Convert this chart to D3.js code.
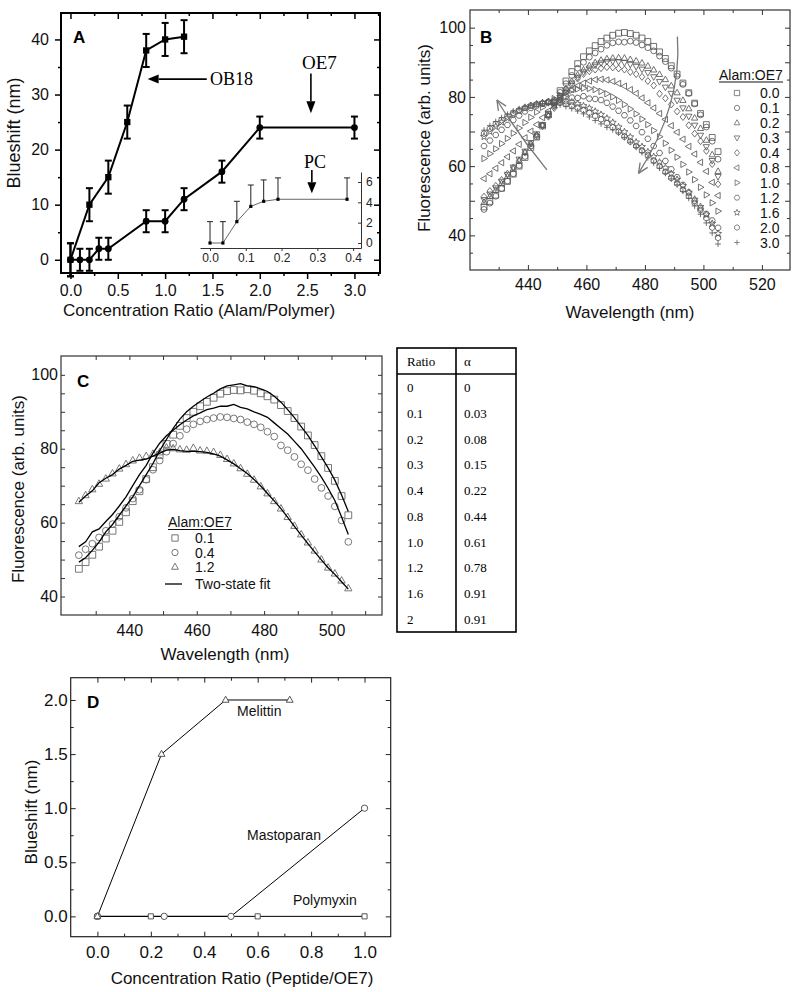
<!DOCTYPE html>
<html><head><meta charset="utf-8">
<script src="https://cdn.jsdelivr.net/npm/d3@7"></script>
<style>
body{margin:0;background:#fff;}
svg{display:block;}
</style></head><body>
<svg id="fig" width="800" height="992"></svg>
<script>
// ================= DATA =================
// Panel A
const obRatio = [0, 0.2, 0.4, 0.6, 0.8, 1.0, 1.2];
const obShift = [0, 10, 15, 25, 38, 40, 40.5];
const obErr   = [3, 3, 3, 3, 3, 3, 3];
const oeRatio = [0, 0.1, 0.2, 0.3, 0.4, 0.8, 1.0, 1.2, 1.6, 2.0, 3.0];
const oeShift = [0, 0, 0, 2, 2, 7, 7, 11, 16, 24, 24];
const oeErr   = [3, 2, 2, 2, 2, 2, 2, 2, 2, 2, 2];
const pcRatio = [0, 0.036, 0.075, 0.114, 0.15, 0.19, 0.383];
const pcShift = [0, 0, 2.1, 3.6, 4.1, 4.3, 4.3];
const pcErr   = [2.1, 2.1, 2.0, 2.1, 2.1, 2.1, 2.1];
const aXMajor = [0, 0.5, 1.0, 1.5, 2.0, 2.5, 3.0];
const aXMinor = [0.25, 0.75, 1.25, 1.75, 2.25, 2.75, 3.25];
const aYMajor = [0, 10, 20, 30, 40];
const aYMinor = [5, 15, 25, 35];
const insetXTicks = [0, 0.1, 0.2, 0.3, 0.4];
const insetYTicks = [0, 2, 4, 6];

// Wavelength grid (nm)
const wl = [425,427,429,431,433,435,437,439,441,443,445,447,449,451,453,455,457,459,461,463,465,467,469,471,473,475,477,479,481,483,485,487,489,491,493,495,497,499,501,503,505];

// Spectra (arb. units)
const s00 = [48.2,49.8,51.6,53.6,55.6,57.7,60.0,62.5,65.4,68.4,71.6,75.0,78.5,81.8,84.6,87.3,89.6,91.6,93.3,94.8,96.0,97.0,97.8,98.4,98.6,98.3,97.8,97.0,96.0,94.6,93.0,91.1,89.0,86.6,84.0,81.2,78.2,75.2,72.0,68.3,64.2];
const s01 = [47.5,49.3,51.3,53.5,55.7,57.8,60.2,62.8,65.8,68.5,71.8,75.0,78.3,81.3,83.8,86.2,88.3,90.0,91.5,92.7,93.8,94.9,95.6,95.9,95.8,96.1,95.7,95.0,94.2,93.3,91.8,90.2,88.3,86.0,83.6,81.0,78.0,74.8,71.3,67.2,62.0];
const s02 = [49.5,51.2,53.0,55.0,57.0,59.2,61.5,63.9,66.4,69.0,71.8,74.6,77.4,80.0,82.4,84.5,86.3,87.8,89.0,89.9,90.6,91.0,91.2,91.3,91.2,90.8,90.4,89.8,88.9,87.8,86.5,85.0,83.2,81.2,79.0,76.6,73.9,70.9,67.5,63.3,58.5];
const s03 = [50.3,51.9,53.7,55.6,57.6,59.7,62.0,64.3,66.8,69.3,72.0,74.7,77.3,79.8,82.0,84.0,85.7,87.2,88.3,89.2,89.8,90.2,90.3,90.2,89.9,89.4,88.8,88.0,87.0,85.8,84.4,82.8,81.0,79.0,76.8,74.4,71.8,68.9,65.6,61.6,57.0];
const s04 = [51.2,52.8,54.3,56.0,57.8,59.6,61.6,64.0,66.5,68.9,71.6,74.3,76.8,79.2,81.4,83.5,85.3,86.6,87.4,87.9,88.3,88.6,88.5,88.2,87.9,87.2,86.6,85.8,84.6,83.3,80.9,79.6,77.8,75.8,74.2,71.8,69.4,67.2,64.4,60.6,54.8];
const s08 = [56.4,57.8,59.4,61.0,62.7,64.4,66.3,68.2,70.1,72.0,74.0,75.9,77.7,79.3,80.8,82.1,83.2,84.0,84.6,85.0,85.1,84.9,84.5,83.9,83.1,82.1,81.0,79.7,78.3,76.8,75.2,73.5,71.7,69.8,67.8,65.7,63.5,61.1,58.5,55.3,51.5];
const s10 = [62.2,63.6,65.0,66.5,68.0,69.5,71.0,72.6,74.1,75.6,77.0,78.3,79.5,80.5,81.3,81.9,82.3,82.5,82.4,82.1,81.6,80.9,80.0,79.0,77.8,76.5,75.1,73.6,72.0,70.3,68.5,66.6,64.6,62.6,60.5,58.3,56.1,53.9,51.7,49.4,47.0];
const s12 = [65.8,67.4,69.0,70.5,71.9,73.3,74.6,75.8,76.8,77.5,78.0,78.6,79.0,80.3,80.1,79.8,79.7,80.2,79.5,79.4,79.1,78.3,77.2,76.0,74.7,73.2,71.6,69.8,67.9,65.8,63.8,61.5,59.1,56.8,54.6,52.4,50.0,47.8,46.2,44.3,42.2];
const s16 = [68.5,70.0,71.4,72.7,73.9,75.0,75.9,76.7,77.4,77.9,78.3,78.6,78.8,78.9,78.8,78.5,78.0,77.4,76.7,75.8,74.9,73.8,72.6,71.3,69.9,68.4,66.9,65.6,64.1,62.7,61.1,59.5,57.8,56.1,54.3,52.4,50.4,48.3,46.0,43.4,40.5];
const s20 = [69.4,70.8,72.1,73.3,74.4,75.4,76.2,76.9,77.5,77.9,78.2,78.4,78.5,78.3,78.0,77.5,76.9,76.2,75.4,74.5,73.5,72.4,71.2,69.9,68.5,67.1,65.8,64.5,63.2,61.6,60.0,58.3,56.6,55.0,53.2,51.4,49.4,47.3,45.0,42.3,39.3];
const s30 = [70.4,71.7,72.9,74.0,75.0,75.9,76.6,77.2,77.6,77.9,78.1,78.1,78.0,77.7,77.2,76.6,75.9,75.1,74.2,73.2,72.2,71.2,70.5,69.6,68.3,66.9,65.4,63.9,62.4,60.9,59.4,57.9,56.3,54.6,52.7,50.7,48.5,46.1,43.6,40.7,37.5];
// Two-state fits (panel C)
const f01 = [49.3,50.5,52.5,54.7,57.5,59.5,62.0,64.5,67.0,70.0,73.0,76.0,79.5,82.5,85.5,88.0,90.0,91.5,92.8,94.0,95.0,96.2,97.0,97.3,97.6,97.0,96.8,96.2,95.5,94.2,92.6,90.6,88.4,86.0,83.6,80.8,77.8,74.8,71.5,67.5,63.0];
const f04 = [53.5,54.8,57.5,58.3,60.3,62.2,64.5,67.0,70.0,73.0,75.5,78.8,81.5,83.5,85.0,86.5,87.8,88.9,89.7,90.6,91.0,91.5,91.5,92.0,91.2,90.8,90.0,89.3,88.5,87.0,85.5,84.0,82.0,80.0,77.5,75.0,72.3,69.3,66.0,61.5,56.8];
const f12 = [65.5,67.2,68.6,70.8,72.0,73.0,74.5,75.5,76.6,76.9,77.2,78.0,78.8,79.6,79.8,79.5,79.3,79.3,79.2,79.0,78.6,78.0,77.0,75.9,74.6,73.3,71.7,69.9,67.9,65.9,63.8,61.4,59.0,56.6,54.3,52.1,49.9,47.8,46.0,44.0,42.0];

const bLabels = ["0.0","0.1","0.2","0.3","0.4","0.8","1.0","1.2","1.6","2.0","3.0"];
const bSeries = [s00, s01, s02, s03, s04, s08, s10, s12, s16, s20, s30];
const bShapes = ["square","circle","triUp","triDown","diamond","triLeft","triRight","hexagon","star","hexagon2","plus"];
const bXMajor = [440, 460, 480, 500, 520];
const bXMinor = [430, 450, 470, 490, 510];
const bYMajor = [40, 50, 60, 70, 80, 90, 100];
const bYMinor = [35, 45, 55, 65, 75, 85, 95];
const bYLabels = [40, 60, 80, 100];

const cLabels = ["0.1", "0.4", "1.2"];
const cSeries = [s01, s04, s12];
const cFits = [f01, f04, f12];
const cShapes = ["square", "circle", "triUp"];
const cXTicks = [430, 440, 450, 460, 470, 480, 490, 500, 510];
const cXLabels = [440, 460, 480, 500];
const cYTicks = [40, 45, 50, 55, 60, 65, 70, 75, 80, 85, 90, 95, 100];
const cYLabels = [40, 60, 80, 100];

// Table
const tabRatio = ["0","0.1","0.2","0.3","0.4","0.8","1.0","1.2","1.6","2"];
const tabAlpha = ["0","0.03","0.08","0.15","0.22","0.44","0.61","0.78","0.91","0.91"];

// Panel D
const melX = [0, 0.24, 0.48, 0.72], melY = [0, 1.5, 2.0, 2.0];
const masX = [0, 0.25, 0.5, 1.0],  masY = [0, 0, 0, 1.0];
const polX = [0, 0.2, 0.6, 1.0],   polY = [0, 0, 0, 0];
const dXMajor = [0, 0.2, 0.4, 0.6, 0.8, 1.0];
const dXMinor = [0.1, 0.3, 0.5, 0.7, 0.9];
const dYMajor = [0, 0.5, 1.0, 1.5, 2.0];
const dYMinor = [0.25, 0.75, 1.25, 1.75];

// ================= HELPERS =================
const SANS = '"Liberation Sans", Arial, Helvetica, sans-serif';
const SERIF = '"Liberation Serif", "Times New Roman", serif';
const svg = d3.select("#fig");

const SYM = {
  square: {draw(c,s){const r=Math.sqrt(s)/2; c.rect(-r,-r,2*r,2*r);}},
  circle: {draw(c,s){const r=Math.sqrt(s)/2; c.moveTo(r,0); c.arc(0,0,r,0,2*Math.PI);}},
  triUp:  {draw(c,s){const r=Math.sqrt(s)/2*1.2; c.moveTo(0,-r); c.lineTo(r*0.9,r*0.6); c.lineTo(-r*0.9,r*0.6); c.closePath();}},
  triDown:{draw(c,s){const r=Math.sqrt(s)/2*1.2; c.moveTo(0,r); c.lineTo(r*0.9,-r*0.6); c.lineTo(-r*0.9,-r*0.6); c.closePath();}},
  triLeft:{draw(c,s){const r=Math.sqrt(s)/2*1.2; c.moveTo(-r,0); c.lineTo(r*0.6,-r*0.9); c.lineTo(r*0.6,r*0.9); c.closePath();}},
  triRight:{draw(c,s){const r=Math.sqrt(s)/2*1.2; c.moveTo(r,0); c.lineTo(-r*0.6,-r*0.9); c.lineTo(-r*0.6,r*0.9); c.closePath();}},
  diamond:{draw(c,s){const r=Math.sqrt(s)/2*1.2; c.moveTo(0,-r); c.lineTo(r*0.8,0); c.lineTo(0,r); c.lineTo(-r*0.8,0); c.closePath();}},
  hexagon:{draw(c,s){const r=Math.sqrt(s)/2*1.05; for(let i=0;i<6;i++){const a=Math.PI/3*i; const px=r*Math.cos(a), py=r*Math.sin(a); i?c.lineTo(px,py):c.moveTo(px,py);} c.closePath();}},
  hexagon2:{draw(c,s){const r=Math.sqrt(s)/2*1.05; for(let i=0;i<6;i++){const a=Math.PI/3*i+Math.PI/6; const px=r*Math.cos(a), py=r*Math.sin(a); i?c.lineTo(px,py):c.moveTo(px,py);} c.closePath();}},
  star:{draw(c,s){const R=Math.sqrt(s)/2*1.25, r=R*0.45; for(let i=0;i<10;i++){const a=-Math.PI/2+Math.PI/5*i; const rr=i%2?r:R; const px=rr*Math.cos(a), py=rr*Math.sin(a); i?c.lineTo(px,py):c.moveTo(px,py);} c.closePath();}},
  plus:{draw(c,s){const r=Math.sqrt(s)/2; c.moveTo(-r,0); c.lineTo(r,0); c.moveTo(0,-r); c.lineTo(0,r);}}
};
const sym = (name, size) => d3.symbol().type(SYM[name]).size(size)();

function frame(g, x, y, sw, col) {
  const [x0,x1]=x.range(), [y0,y1]=y.range();
  g.append("rect").attr("x",x0).attr("y",y1).attr("width",x1-x0).attr("height",y0-y1)
    .attr("fill","none").attr("stroke",col).attr("stroke-width",sw);
}
function ticks(g, gen, tr, vals, size, col, sw) {
  g.append("g").attr("transform",tr)
    .call(gen.tickValues(vals).tickSize(size).tickFormat(""))
    .call(s=>{s.select(".domain").remove(); s.selectAll("text").remove();
      s.selectAll("line").attr("stroke",col).attr("stroke-width",sw);});
}
function labels(g, gen, tr, vals, pad, fmt, fs) {
  g.append("g").attr("transform",tr)
    .call(gen.tickValues(vals).tickSize(0).tickPadding(pad).tickFormat(fmt))
    .call(s=>{s.select(".domain").remove(); s.selectAll("line").remove();
      s.selectAll("text").attr("font-size",fs).attr("font-family",SANS).attr("fill","#111");});
}
function fourSides(g, x, y, xv, yv, len, col, sw, outLB) {
  const [x0,x1]=x.range(), [y0,y1]=y.range();
  ticks(g, d3.axisBottom(x), `translate(0,${y0})`, xv, outLB?len:-len, col, sw);
  ticks(g, d3.axisTop(x), `translate(0,${y1})`, xv, -len, col, sw);
  ticks(g, d3.axisLeft(y), `translate(${x0},0)`, yv, outLB?len:-len, col, sw);
  ticks(g, d3.axisRight(y), `translate(${x1},0)`, yv, -len, col, sw);
}
function text(g, str, x, y, o={}) {
  const t = g.append("text").attr("x",x).attr("y",y).text(str)
    .attr("font-family", o.family||SANS).attr("font-size", o.size||16)
    .attr("fill", o.fill||"#111").attr("text-anchor", o.anchor||"start");
  if (o.weight) t.attr("font-weight", o.weight);
  if (o.rotate) t.attr("transform", `rotate(-90,${x},${y})`);
  return t;
}
function filledArrow(g, p0, p1, len, hw) {
  const a = Math.atan2(p1[1]-p0[1], p1[0]-p0[0]);
  const bx = p1[0]-len*Math.cos(a), by = p1[1]-len*Math.sin(a);
  g.append("line").attr("x1",p0[0]).attr("y1",p0[1]).attr("x2",bx).attr("y2",by)
    .attr("stroke","#000").attr("stroke-width",1.6);
  const path = d3.path();
  path.moveTo(p1[0],p1[1]);
  path.lineTo(bx + hw*Math.sin(a), by - hw*Math.cos(a));
  path.lineTo(bx - hw*Math.sin(a), by + hw*Math.cos(a));
  path.closePath();
  g.append("path").attr("d",path.toString()).attr("fill","#000");
}
function curvedArrow(g, p0, c, p2, col, w, head) {
  const p = d3.path(); p.moveTo(p0[0],p0[1]); p.quadraticCurveTo(c[0],c[1],p2[0],p2[1]);
  g.append("path").attr("d",p.toString()).attr("fill","none").attr("stroke",col).attr("stroke-width",w);
  const a = Math.atan2(p2[1]-c[1], p2[0]-c[0]);
  const h = d3.path();
  for (const s of [-1,1]) {
    const aa = a + Math.PI + s*0.42;
    h.moveTo(p2[0]+head*Math.cos(aa), p2[1]+head*Math.sin(aa)); h.lineTo(p2[0],p2[1]);
  }
  g.append("path").attr("d",h.toString()).attr("fill","none").attr("stroke",col).attr("stroke-width",w);
}

// ================= PANEL A =================
{
  const g = svg.append("g");
  const x = d3.scaleLinear().domain([-0.1, 3.27]).range([61, 380]);
  const y = d3.scaleLinear().domain([-2.4, 44.8]).range([273, 13]);
  frame(g, x, y, 2, "#000");
  fourSides(g, x, y, aXMajor, aYMajor, 6, "#000", 1.5, true);
  fourSides(g, x, y, aXMinor, aYMinor, 3, "#000", 1.5, true);
  labels(g, d3.axisBottom(x), `translate(0,273)`, aXMajor, 11.4, d3.format(".1f"), 16);
  labels(g, d3.axisLeft(y), `translate(61,0)`, aYMajor, 12, d3.format("d"), 16);
  text(g, "Blueshift (nm)", 20, 133, {size:18, anchor:"middle", rotate:true});
  text(g, "Concentration Ratio (Alam/Polymer)", 199, 316, {size:17, anchor:"middle"});
  text(g, "A", 73, 43, {size:17, weight:"bold", fill:"#000"});

  const line = (xs, ys) => d3.line().x(i=>x(xs[i])).y(i=>y(ys[i]))(d3.range(xs.length));
  g.append("path").attr("d", line(obRatio, obShift)).attr("fill","none").attr("stroke","#000").attr("stroke-width",2);
  g.append("path").attr("d", line(oeRatio, oeShift)).attr("fill","none").attr("stroke","#000").attr("stroke-width",2);
  function errBars(xs, ys, es) {
    xs.forEach((xv,i)=>{
      const cx = x(xv), t = y(ys[i]+es[i]), b = y(ys[i]-es[i]);
      g.append("line").attr("x1",cx).attr("x2",cx).attr("y1",t).attr("y2",b).attr("stroke","#000").attr("stroke-width",2);
      [t,b].forEach(yy=>g.append("line").attr("x1",cx-3.5).attr("x2",cx+3.5).attr("y1",yy).attr("y2",yy).attr("stroke","#000").attr("stroke-width",2));
    });
  }
  errBars(obRatio, obShift, obErr);
  errBars(oeRatio, oeShift, oeErr);
  g.selectAll(".ob").data(obRatio).join("path")
    .attr("transform",(d,i)=>`translate(${x(d)},${y(obShift[i])})`).attr("d", sym("square", 40)).attr("fill","#000");
  g.selectAll(".oe").data(oeRatio).join("path")
    .attr("transform",(d,i)=>`translate(${x(d)},${y(oeShift[i])})`).attr("d", sym("circle", 46)).attr("fill","#000");

  // annotations (data coordinates)
  filledArrow(g, [x(1.44), y(32.8)], [x(0.815), y(32.8)], 11, 4.5);
  filledArrow(g, [x(2.54), y(33.8)], [x(2.54), y(26.6)], 12, 4.5);
  filledArrow(g, [x(2.55), y(16.3)], [x(2.55), y(12.1)], 11, 4.5);
  text(g, "OB18", x(1.474), y(31.7), {family:SERIF, size:18, fill:"#000"});
  text(g, "OE7", x(2.445), y(34.6), {family:SERIF, size:19, fill:"#000"});
  text(g, "PC", x(2.467), y(16.7), {family:SERIF, size:18, fill:"#000"});

  // inset (PC)
  const xi = d3.scaleLinear().domain([-0.028, 0.422]).range([200, 361]);
  const yi = d3.scaleLinear().domain([-0.49, 6.98]).range([248, 172]);
  const gi = g.append("g");
  gi.append("g").attr("transform","translate(0,248)")
    .call(d3.axisBottom(xi).tickValues(insetXTicks).tickSize(3).tickSizeOuter(0).tickPadding(2).tickFormat(d3.format(".1f")))
    .call(s=>{s.selectAll("path,line").attr("stroke","#333");
      s.selectAll("text").attr("font-size",12).attr("font-family",SANS).attr("fill","#222");});
  gi.append("g").attr("transform","translate(361,0)")
    .call(d3.axisRight(yi).tickValues(insetYTicks).tickSize(-3).tickSizeOuter(0).tickPadding(5).tickFormat(d3.format("d")))
    .call(s=>{s.selectAll("path,line").attr("stroke","#333");
      s.selectAll("text").attr("font-size",12).attr("font-family",SANS).attr("fill","#222");});
  gi.append("path").attr("d", d3.line().x(i=>xi(pcRatio[i])).y(i=>yi(pcShift[i]))(d3.range(pcRatio.length)))
    .attr("fill","none").attr("stroke","#666").attr("stroke-width",1);
  pcRatio.forEach((xv,i)=>{
    const cx = xi(xv), t = yi(pcShift[i]+pcErr[i]), b = yi(pcShift[i]);
    gi.append("line").attr("x1",cx).attr("x2",cx).attr("y1",t).attr("y2",b).attr("stroke","#222").attr("stroke-width",1);
    gi.append("line").attr("x1",cx-3).attr("x2",cx+3).attr("y1",t).attr("y2",t).attr("stroke","#222").attr("stroke-width",1);
  });
  gi.selectAll(".pc").data(pcRatio).join("path")
    .attr("transform",(d,i)=>`translate(${xi(d)},${yi(pcShift[i])})`).attr("d", sym("square", 10)).attr("fill","#000");
}

// ================= PANEL B =================
{
  const g = svg.append("g");
  const x = d3.scaleLinear().domain([420.2, 529.6]).range([470, 790]);
  const y = d3.scaleLinear().domain([30, 105.1]).range([270, 10]);
  frame(g, x, y, 1.2, "#333");
  fourSides(g, x, y, bXMajor, bYMajor, 5, "#333", 1, false);
  fourSides(g, x, y, bXMinor, bYMinor, 3, "#333", 1, false);
  labels(g, d3.axisBottom(x), `translate(0,270)`, bXMajor, 8.6, d3.format("d"), 16);
  labels(g, d3.axisLeft(y), `translate(470,0)`, bYLabels, 4, d3.format("d"), 16);
  text(g, "Fluorescence (arb. units)", 430, 138, {size:17, anchor:"middle", rotate:true});
  text(g, "Wavelength (nm)", 630, 318, {size:17, anchor:"middle"});
  text(g, "B", 480, 43, {size:17, weight:"bold", fill:"#000"});

  bSeries.forEach((ser, k) => {
    g.append("g").selectAll("path").data(wl).join("path")
      .attr("transform",(d,i)=>`translate(${x(d)},${y(ser[i])})`)
      .attr("d", sym(bShapes[k], 34)).attr("fill","none").attr("stroke","#585858").attr("stroke-width",0.85);
  });
  // arrows (data coordinates)
  curvedArrow(g, [x(446.5), y(58.9)], [x(437.3), y(68.4)], [x(429.4), y(79.1)], "#777", 1.3, 11);
  curvedArrow(g, [x(491.1), y(97.4)], [x(492.8), y(77.7)], [x(477.8), y(57.9)], "#777", 1.3, 11);

  // legend
  text(g, "Alam:OE7", 719, 80, {size:14});
  g.append("line").attr("x1",719).attr("x2",783).attr("y1",82).attr("y2",82).attr("stroke","#111").attr("stroke-width",1);
  bLabels.forEach((lab,i)=>{
    const yy = 93 + i*14.95;
    g.append("path").attr("transform",`translate(737,${yy})`).attr("d", sym(bShapes[i], 28))
      .attr("fill","none").attr("stroke","#777").attr("stroke-width",0.9);
    text(g, lab, 760, yy+5, {size:14});
  });
}

// ================= PANEL C =================
{
  const g = svg.append("g");
  const x = d3.scaleLinear().domain([419.7, 515]).range([61, 382]);
  const y = d3.scaleLinear().domain([35, 105.1]).range([615, 356]);
  frame(g, x, y, 1.2, "#333");
  fourSides(g, x, y, cXTicks, cYTicks, 4, "#333", 1, false);
  labels(g, d3.axisBottom(x), `translate(0,615)`, cXLabels, 9.6, d3.format("d"), 16);
  labels(g, d3.axisLeft(y), `translate(61,0)`, cYLabels, 3, d3.format("d"), 16);
  text(g, "Fluorescence (arb. units)", 24, 489, {size:17, anchor:"middle", rotate:true});
  text(g, "Wavelength (nm)", 225, 660, {size:17, anchor:"middle"});
  text(g, "C", 77, 387, {size:17, weight:"bold", fill:"#000"});

  cSeries.forEach((ser,k)=>{
    g.append("g").selectAll("path").data(wl).join("path")
      .attr("transform",(d,i)=>`translate(${x(d)},${y(ser[i])})`)
      .attr("d", sym(cShapes[k], 46)).attr("fill","none").attr("stroke","#6a6a6a").attr("stroke-width",0.9);
  });
  cFits.forEach(f=>{
    g.append("path").attr("d", d3.line().x(i=>x(wl[i])).y(i=>y(f[i]))(d3.range(wl.length)))
      .attr("fill","none").attr("stroke","#000").attr("stroke-width",1.3);
  });
  // legend
  text(g, "Alam:OE7", 168, 527, {size:14});
  g.append("line").attr("x1",168).attr("x2",232).attr("y1",529.5).attr("y2",529.5).attr("stroke","#111");
  cLabels.forEach((lab,i)=>{
    const yy = 538 + i*14.5;
    g.append("path").attr("transform",`translate(175,${yy})`).attr("d", sym(cShapes[i], 40))
      .attr("fill","none").attr("stroke","#666").attr("stroke-width",0.9);
    text(g, lab, 195, yy+5, {size:14});
  });
  g.append("line").attr("x1",165).attr("x2",182).attr("y1",584).attr("y2",584).attr("stroke","#000").attr("stroke-width",1.3);
  text(g, "Two-state fit", 195, 589, {size:14});
}

// ================= TABLE =================
{
  const g = svg.append("g");
  const L = 397, R = 516, T = 348, H = 374, B = 632, M = 456;
  g.append("rect").attr("x",L).attr("y",T).attr("width",R-L).attr("height",B-T)
    .attr("fill","none").attr("stroke","#000").attr("stroke-width",1.6);
  g.append("line").attr("x1",L).attr("x2",R).attr("y1",H).attr("y2",H).attr("stroke","#000").attr("stroke-width",1.6);
  g.append("line").attr("x1",M).attr("x2",M).attr("y1",T).attr("y2",B).attr("stroke","#000").attr("stroke-width",1.6);
  text(g, "Ratio", 407, 366, {family:SERIF, size:13, fill:"#000"});
  text(g, "α", 464, 366, {family:SERIF, size:13, fill:"#000"});
  const rowY = d3.scalePoint().domain(d3.range(tabRatio.length)).range([388, 620]);
  g.selectAll(".r1").data(tabRatio).join("text").attr("x",407).attr("y",(d,i)=>rowY(i)+4)
    .text(d=>d).attr("font-family",SERIF).attr("font-size",13).attr("fill","#000");
  g.selectAll(".r2").data(tabAlpha).join("text").attr("x",464).attr("y",(d,i)=>rowY(i)+4)
    .text(d=>d).attr("font-family",SERIF).attr("font-size",13).attr("fill","#000");
}

// ================= PANEL D =================
{
  const g = svg.append("g");
  const x = d3.scaleLinear().domain([-0.1, 1.098]).range([70.7, 390.7]);
  const y = d3.scaleLinear().domain([-0.188, 2.206]).range([936.7, 677.7]);
  frame(g, x, y, 1.2, "#222");
  fourSides(g, x, y, dXMajor, dYMajor, 5, "#222", 1, false);
  fourSides(g, x, y, dXMinor, dYMinor, 3, "#222", 1, false);
  labels(g, d3.axisBottom(x), `translate(0,936.7)`, dXMajor, 9.2, d3.format(".1f"), 17);
  labels(g, d3.axisLeft(y), `translate(70.7,0)`, dYMajor, 3, d3.format(".1f"), 17);
  text(g, "Blueshift (nm)", 37, 812, {size:17, anchor:"middle", rotate:true});
  text(g, "Concentration Ratio (Peptide/OE7)", 242, 984, {size:17, anchor:"middle"});
  text(g, "D", 87, 708, {size:17, weight:"bold", fill:"#000"});

  const line = (xs, ys) => d3.line().x(i=>x(xs[i])).y(i=>y(ys[i]))(d3.range(xs.length));
  [[polX,polY],[masX,masY],[melX,melY]].forEach(([xs,ys])=>{
    g.append("path").attr("d", line(xs,ys)).attr("fill","none").attr("stroke","#000").attr("stroke-width",1);
  });
  [[polX,polY,"square",26],[masX,masY,"circle",40],[melX,melY,"triUp",40]].forEach(([xs,ys,shape,sz])=>{
    g.append("g").selectAll("path").data(xs).join("path")
      .attr("transform",(d,i)=>`translate(${x(d)},${y(ys[i])})`)
      .attr("d", sym(shape, sz)).attr("fill","#fff").attr("stroke","#444").attr("stroke-width",0.9);
  });
  text(g, "Melittin", x(0.523), y(1.85), {size:14});
  text(g, "Mastoparan", x(0.56), y(0.707), {size:14});
  text(g, "Polymyxin", x(0.732), y(0.104), {size:14});
}
</script></body></html>
